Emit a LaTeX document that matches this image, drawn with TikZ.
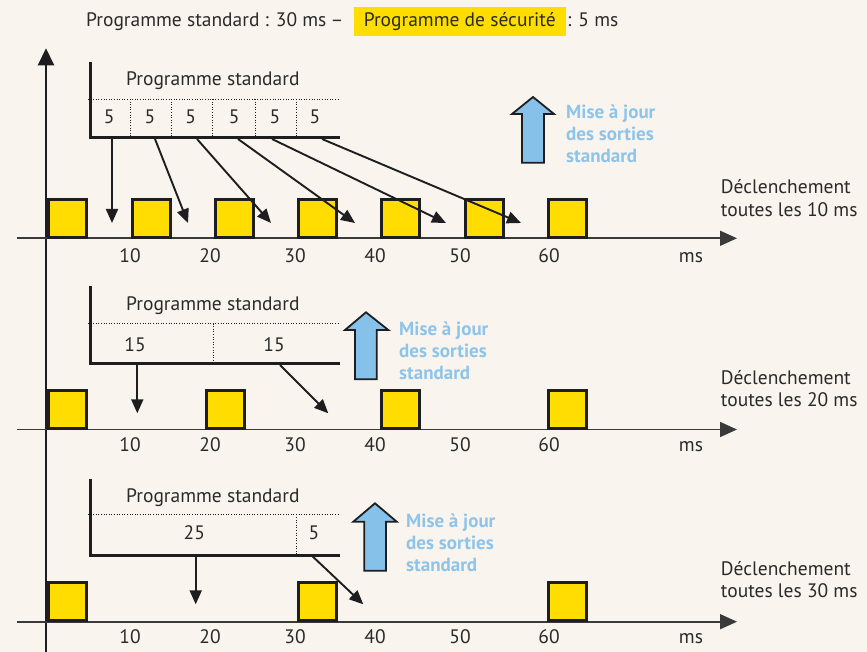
\documentclass[tikz,border=0pt]{standalone}
\usepackage{fontspec}
\setmainfont{PT Sans}
\usetikzlibrary{arrows.meta}
\definecolor{bg}{HTML}{F9F5EE}
\definecolor{ink}{HTML}{1E1E20}
\definecolor{txtc}{HTML}{2A2A2A}
\definecolor{axisgray}{HTML}{3A3A3A}
\definecolor{sqyellow}{HTML}{FFDD00}
\definecolor{bluefill}{HTML}{86C1EA}
\definecolor{bluetext}{HTML}{8DC4EA}
\begin{document}
\begin{tikzpicture}[x=1pt,y=-1pt,
  txt/.style={font=\fontsize{19.5}{22}\selectfont, text=txtc, inner sep=0pt, anchor=base west},
  lab/.style={txt, anchor=base},
  bluet/.style={font=\fontsize{19}{22}\selectfont\bfseries, text=bluetext, inner sep=0pt, anchor=base west},
  sq/.style={draw=ink, fill=sqyellow, line width=3pt, minimum size=38pt, inner sep=0pt},
  conn/.style={draw=ink, line width=1.9pt, -{Triangle[length=14pt,width=12pt]}},
  haxis/.style={draw=axisgray, line width=1.6pt, -{Triangle[length=17pt,width=15pt]}},
  vaxis/.style={draw=ink, line width=2.5pt, -{Triangle[length=17pt,width=16pt]}},
  bar/.style={draw=ink, line width=3pt, line cap=rect},
  dotl/.style={draw=ink, line width=0.9pt, dash pattern=on 1pt off 1.6pt},
  upar/.style={draw=ink, fill=bluefill, line width=1.8pt, line join=miter}]
\useasboundingbox (0,0) rectangle (867,652);
\fill[bg] (0,0) rectangle (867,652);

% title
\fill[sqyellow] (354,7) rectangle (565.5,36);
\node[txt] (t1) at (86,27) {Programme standard : 30 ms};
\node[lab] (t1d) at (337,27) {–};
\node[lab] (t2) at (459.75,27) {Programme de sécurité};
\node[txt] (t3) at (567,27) {: 5 ms};

% vertical axis
\coordinate (vb) at (46,652);
\coordinate (vt) at (46,48.3);
\draw[vaxis] (vb) -- (vt);

% ================= ROW 1 =================
\coordinate (a1l) at (17,238.3);
\coordinate (a1r) at (737,238.3);
\draw[haxis] (a1l) -- (a1r);
\foreach \x [count=\i] in {47,130.7,214,297,380,464,547}
  \node[sq] (r1s\i) at (\x+20.5,218.5) {};
\foreach \x/\t in {130/10,210/20,295/30,375/40,460/50,549/60}
  \node[lab] (r1l\t) at (\x,262) {\t};
\node[lab] (r1ms) at (691,262) {ms};
\node[txt] (r1d1) at (720.7,194) {Déclenchement};
\node[txt] (r1d2) at (720.7,216.7) {toutes les 10 ms};

% program block
\draw[dotl] (88,99) -- (340,99);
\foreach \x in {130,171.7,212.7,255,296.7}
  \draw[dotl] (\x,99) -- (\x,136);
\draw[bar] (90,64) -- (90,137.5) -- (338,137.5);
\node[txt] (r1p) at (126,86) {Programme standard};
\foreach \x [count=\i] in {109.3,150,190.7,234.3,275,315}
  \node[lab] (r1n\i) at (\x,123.3) {5};
% arrows
\foreach \sx/\ex [count=\i] in {112/112,155/188,197/271,238/355,272/446,322/521}{
  \coordinate (r1a\i) at (\sx,139);
  \coordinate (r1b\i) at (\ex,223);
  \draw[conn] (r1a\i) -- (r1b\i);
}
% update arrow
\draw[upar] (533,97) -- (554,114) -- (544,114) -- (544,162.7) -- (522,162.7) -- (522,114) -- (512,114) -- cycle;
\node[bluet] (r1m1) at (566,118.3) {Mise à jour};
\node[bluet] (r1m2) at (566,140.3) {des sorties};
\node[bluet] (r1m3) at (566,162.3) {standard};

% ================= ROW 2 =================
\coordinate (a2l) at (17,429.5);
\coordinate (a2r) at (737,429.5);
\draw[haxis] (a2l) -- (a2r);
\foreach \x [count=\i] in {47,205,380,547}
  \node[sq] (r2s\i) at (\x+20.5,409.5) {};
\foreach \x/\t in {130/10,210/20,295/30,375/40,460/50,549/60}
  \node[lab] (r2l\t) at (\x,451.7) {\t};
\node[lab] (r2ms) at (691,451.7) {ms};
\node[txt] (r2d1) at (720.7,384) {Déclenchement};
\node[txt] (r2d2) at (720.7,406.7) {toutes les 20 ms};

\draw[dotl] (88,323.5) -- (340,323.5);
\draw[dotl] (213.3,323.5) -- (213.3,362);
\draw[bar] (90,288) -- (90,363.5) -- (338,363.5);
\node[txt] (r2p) at (126,310) {Programme standard};
\node[lab] (r2n1) at (135,351) {15};
\node[lab] (r2n2) at (274,351) {15};
\coordinate (r2a1) at (137.3,365);
\coordinate (r2b1) at (137.3,413.3);
\coordinate (r2a2) at (280,365);
\coordinate (r2b2) at (328.3,413.3);
\draw[conn] (r2a1) -- (r2b1);
\draw[conn] (r2a2) -- (r2b2);
\draw[upar] (366,312.3) -- (388.3,330) -- (376.7,330) -- (376.7,379.3) -- (355,379.3) -- (355,330) -- (345,330) -- cycle;
\node[bluet] (r2m1) at (399,335) {Mise à jour};
\node[bluet] (r2m2) at (399,357) {des sorties};
\node[bluet] (r2m3) at (399,379) {standard};

% ================= ROW 3 =================
\coordinate (a3l) at (17,621.7);
\coordinate (a3r) at (737,621.7);
\draw[haxis] (a3l) -- (a3r);
\foreach \x [count=\i] in {47,297,547}
  \node[sq] (r3s\i) at (\x+20.5,601.5) {};
\foreach \x/\t in {130/10,210/20,295/30,375/40,460/50,549/60}
  \node[lab] (r3l\t) at (\x,643) {\t};
\node[lab] (r3ms) at (691,643) {ms};
\node[txt] (r3d1) at (720.7,575.7) {Déclenchement};
\node[txt] (r3d2) at (720.7,597.5) {toutes les 30 ms};

\draw[dotl] (88,514.3) -- (340,514.3);
\draw[dotl] (296.7,514.3) -- (296.7,553.5);
\draw[bar] (90,480) -- (90,555) -- (338,555);
\node[txt] (r3p) at (126,502.3) {Programme standard};
\node[lab] (r3n1) at (194.3,539) {25};
\node[lab] (r3n2) at (314,539) {5};
\coordinate (r3a1) at (195.7,556.5);
\coordinate (r3b1) at (195.7,604.3);
\coordinate (r3a2) at (312.7,556.5);
\coordinate (r3b2) at (363.3,604.3);
\draw[conn] (r3a1) -- (r3b1);
\draw[conn] (r3a2) -- (r3b2);
\draw[upar] (375,503.3) -- (396.7,521.7) -- (386,521.7) -- (386,570.7) -- (364.3,570.7) -- (364.3,521.7) -- (353.3,521.7) -- cycle;
\node[bluet] (r3m1) at (406,527) {Mise à jour};
\node[bluet] (r3m2) at (406,549) {des sorties};
\node[bluet] (r3m3) at (406,571) {standard};
\end{tikzpicture}
\end{document}
